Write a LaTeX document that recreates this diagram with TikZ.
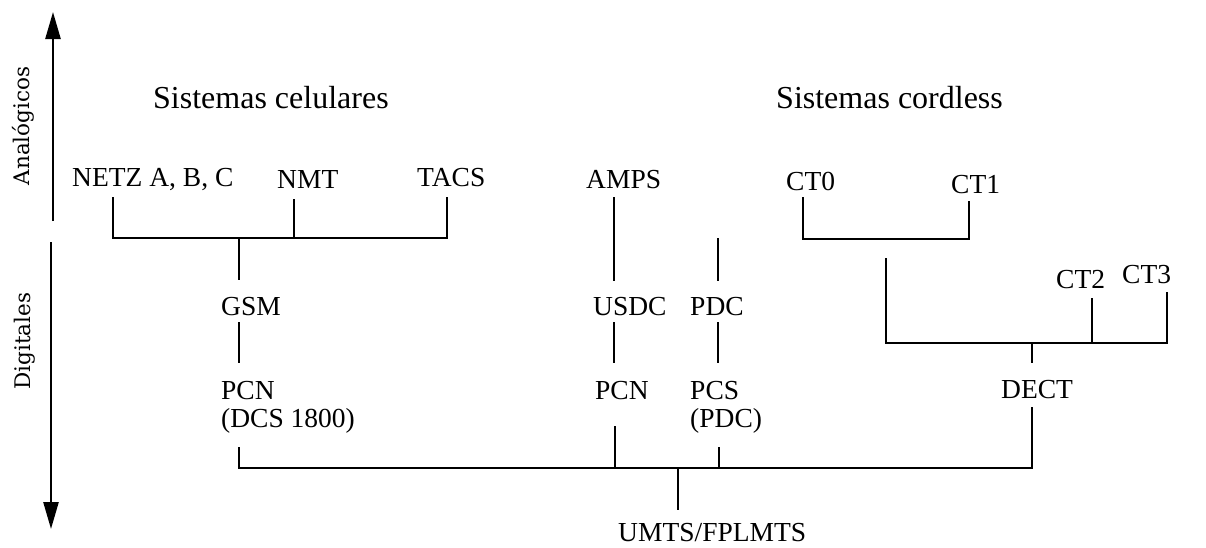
\documentclass[tikz,border=0pt]{standalone}
\usepackage{fontspec}
\setmainfont{Liberation Serif}
\newfontfamily\axisfont{DejaVu Serif}
\usetikzlibrary{arrows.meta}
\begin{document}
\begin{tikzpicture}[x=1pt,y=-1pt,
  lbl/.style={font=\fontsize{27.5}{28}\selectfont, inner sep=0pt, anchor=base west, align=left},
  head/.style={font=\fontsize{32}{36}\selectfont, inner sep=0pt, anchor=base west},
  axislbl/.style={font=\axisfont\fontsize{21.5}{24}\selectfont, inner sep=0pt, anchor=base, rotate=90},
  link/.style={line width=2pt},
  era/.style={line width=2.5pt, -{Triangle[length=27pt,width=15pt]}}]
\useasboundingbox (0,0) rectangle (1206,547);

% era axis
\node[axislbl] (ana) at (29,126) {Analógicos};
\node[axislbl] (dig) at (30,341) {Digitales};
\coordinate (ana-lo) at (53,221);
\coordinate (ana-hi) at (53,12);
\coordinate (dig-hi) at (51,242);
\coordinate (dig-lo) at (51,529);
\draw[era] (ana-lo) -- (ana-hi);
\draw[era] (dig-hi) -- (dig-lo);

% headings
\node[head] (cel) at (153,108) {Sistemas celulares};
\node[head] (cord) at (776,108) {Sistemas cordless};

% systems (multi-line labels are placed by their last baseline)
\node[lbl] (netz) at (72,186) {NETZ A, B, C};
\node[lbl] (nmt) at (277,188) {NMT};
\node[lbl] (tacs) at (417,186) {TACS};
\node[lbl] (amps) at (586,188) {AMPS};
\node[lbl] (ct0) at (786,190) {CT0};
\node[lbl] (ct1) at (951,193) {CT1};
\node[lbl] (ct2) at (1056,288) {CT2};
\node[lbl] (ct3) at (1122,283) {CT3};
\node[lbl] (gsm) at (221,315) {GSM};
\node[lbl] (usdc) at (593,315) {USDC};
\node[lbl] (pdc) at (690,315) {PDC};
\node[lbl] (pcn) at (221,427) {PCN\\(DCS 1800)};
\node[lbl] (pcnb) at (595,399) {PCN};
\node[lbl] (pcs) at (690,427) {PCS\\(PDC)};
\node[lbl] (dect) at (1001,398) {DECT};
\node[lbl] (umts) at (618,541) {UMTS/FPLMTS};

% connector end points
\coordinate (netz-d) at (113,197);
\coordinate (nmt-d) at (294,199);
\coordinate (nmt-j) at (294,238);
\coordinate (tacs-d) at (447,197);
\coordinate (tacs-j) at (447,238);
\coordinate (gsm-j) at (239,238);
\coordinate (gsm-u) at (239,280);
\coordinate (gsm-d) at (239,322);
\coordinate (pcn-u) at (239,363);
\coordinate (pcn-d) at (239,447);
\coordinate (dect-j) at (1032,468);
\coordinate (dect-d) at (1032,407);
\coordinate (pcnb-d) at (615,426);
\coordinate (pcnb-j) at (615,468);
\coordinate (pcs-d) at (719,447);
\coordinate (pcs-j) at (719,468);
\coordinate (umts-j) at (678,468);
\coordinate (umts-u) at (678,510);
\coordinate (amps-d) at (614,197);
\coordinate (usdc-u) at (614,281);
\coordinate (usdc-d) at (614,322);
\coordinate (pcnb-u) at (614,363);
\coordinate (pdc-stub) at (718,238);
\coordinate (pdc-u) at (718,281);
\coordinate (pdc-d) at (718,322);
\coordinate (pcs-u) at (718,363);
\coordinate (ct0-d) at (803,197);
\coordinate (ct1-d) at (969,201);
\coordinate (ct1-j) at (969,239);
\coordinate (ct-stub) at (886,258);
\coordinate (ct2-d) at (1092,298);
\coordinate (ct2-j) at (1092,343);
\coordinate (ct3-d) at (1167,292);
\coordinate (ct3-j) at (1167,343);
\coordinate (dect-j2) at (1032,343);
\coordinate (dect-u) at (1032,363);

% cellular tree
\draw[link] (netz-d) |- (tacs-j) -- (tacs-d);
\draw[link] (nmt-d) -- (nmt-j);
\draw[link] (gsm-j) -- (gsm-u);
\draw[link] (gsm-d) -- (pcn-u);
\draw[link] (amps-d) -- (usdc-u);
\draw[link] (usdc-d) -- (pcnb-u);
\draw[link] (pdc-stub) -- (pdc-u);
\draw[link] (pdc-d) -- (pcs-u);

% cordless tree
\draw[link] (ct0-d) |- (ct1-j) -- (ct1-d);
\draw[link] (ct-stub) |- (ct3-j) -- (ct3-d);
\draw[link] (ct2-d) -- (ct2-j);
\draw[link] (dect-j2) -- (dect-u);

% convergence to UMTS
\draw[link] (pcn-d) |- (dect-j) -- (dect-d);
\draw[link] (pcnb-d) -- (pcnb-j);
\draw[link] (pcs-d) -- (pcs-j);
\draw[link] (umts-j) -- (umts-u);
\end{tikzpicture}
\end{document}
